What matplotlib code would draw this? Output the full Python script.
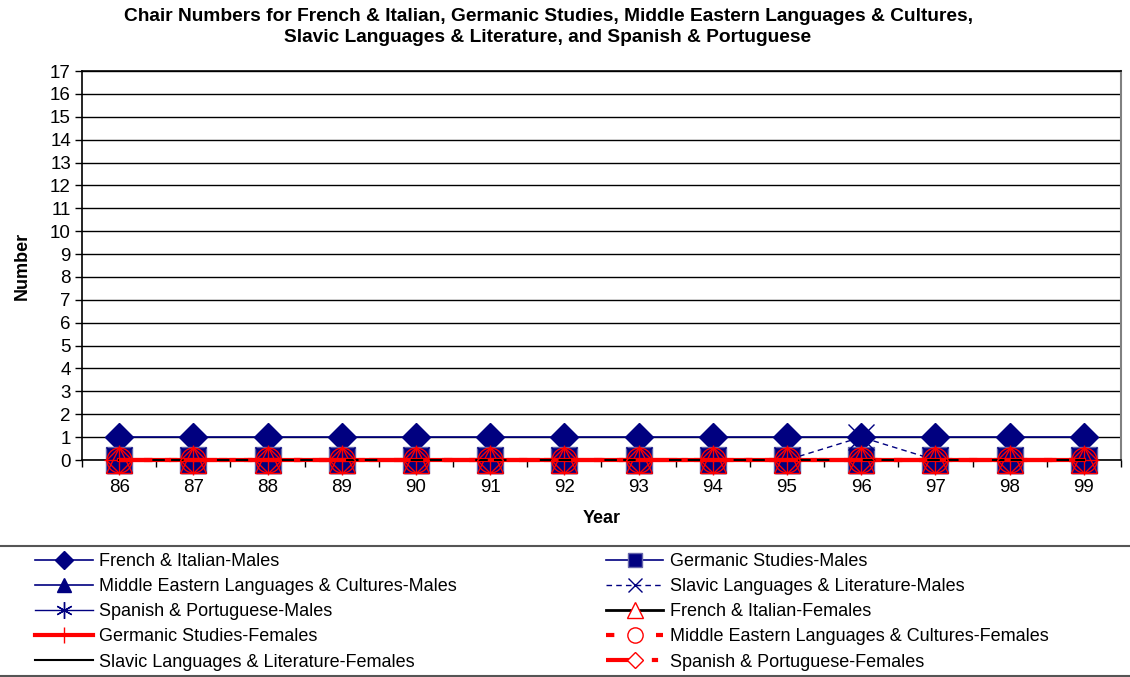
import matplotlib
matplotlib.use('Agg')
import matplotlib.pyplot as plt
from matplotlib.lines import Line2D
from matplotlib.patches import Rectangle

plt.rcParams['font.family'] = ['Liberation Sans', 'DejaVu Sans']

years = ['86', '87', '88', '89', '90', '91', '92', '93', '94', '95', '96', '97', '98', '99']

fr_it_m = [1, 1, 1, 1, 1, 1, 1, 1, 1, 1, 1, 1, 1, 1]
germ_m = [0, 0, 0, 0, 0, 0, 0, 0, 0, 0, 0, 0, 0, 0]
mideast_m = [0, 0, 0, 0, 0, 0, 0, 0, 0, 0, 0, 0, 0, 0]
slavic_m = [0, 0, 0, 0, 0, 0, 0, 0, 0, 0, 1, 0, 0, 0]
span_m = [0, 0, 0, 0, 0, 0, 0, 0, 0, 0, 0, 0, 0, 0]
fr_it_f = [0, 0, 0, 0, 0, 0, 0, 0, 0, 0, 0, 0, 0, 0]
germ_f = [0, 0, 0, 0, 0, 0, 0, 0, 0, 0, 0, 0, 0, 0]
mideast_f = [0, 0, 0, 0, 0, 0, 0, 0, 0, 0, 0, 0, 0, 0]
slavic_f = [0, 0, 0, 0, 0, 0, 0, 0, 0, 0, 0, 0, 0, 0]
span_f = [0, 0, 0, 0, 0, 0, 0, 0, 0, 0, 0, 0, 0, 0]

navy = '#000080'
red = '#ff0000'

# label, data, line style, marker, marker size in plot, marker size in legend, hollow?
series = [
    ('French & Italian-Males', fr_it_m,
     dict(color=navy, lw=1.2, ls='-'), dict(marker='D', mfc=navy, mec=navy), 14.5, 9, False),
    ('Germanic Studies-Males', germ_m,
     dict(color=navy, lw=1.2, ls='-'), dict(marker='s', mfc=navy, mec='#6666aa'), 19, 10, False),
    ('Middle Eastern Languages & Cultures-Males', mideast_m,
     dict(color=navy, lw=1.2, ls='-'), dict(marker='^', mfc=navy, mec=navy), 18, 10, False),
    ('Slavic Languages & Literature-Males', slavic_m,
     dict(color=navy, lw=1.0, ls=(0, (4, 3))), dict(marker='x', mfc='none', mec=navy, mew=1.0), 19, 10, False),
    ('Spanish & Portuguese-Males', span_m,
     dict(color=navy, lw=1.0, ls='-'), dict(marker=(6, 2, 0), mfc='none', mec=navy, mew=1.0), 19, 12, False),
    ('French & Italian-Females', fr_it_f,
     dict(color='black', lw=2.0, ls='-'), dict(marker='^', mfc='none', mec=red, mew=1.0), 19, 12, True),
    ('Germanic Studies-Females', germ_f,
     dict(color=red, lw=3.0, ls='-'), dict(marker='+', mfc='none', mec=red, mew=1.0), 21, 12, False),
    ('Middle Eastern Languages & Cultures-Females', mideast_f,
     dict(color=red, lw=3.0, ls=(0, (2, 4))), dict(marker='o', mfc='none', mec=red, mew=1.0), 18, 11, True),
    ('Slavic Languages & Literature-Females', slavic_f,
     dict(color='black', lw=1.5, ls='-'), dict(marker='None'), 0, 0, False),
    ('Spanish & Portuguese-Females', span_f,
     dict(color=red, lw=3.0, ls=(0, (8, 3, 1.5, 3))), dict(marker='D', mfc='none', mec=red, mew=1.0), 13, 8, True),
]

fig = plt.figure(figsize=(11.3, 6.77), dpi=100)
ax = fig.add_axes([0.0726, 0.3205, 0.9194, 0.5746])

x = list(range(len(years)))
handles = []
for label, data, line_kw, mk_kw, ms, ms_leg, hollow in series:
    ax.plot(x, data, markersize=ms, clip_on=False, zorder=3, **line_kw, **mk_kw)
    leg_mk = dict(mk_kw)
    if hollow:
        leg_mk['mfc'] = 'white'
    handles.append(Line2D([], [], markersize=ms_leg, **line_kw, **leg_mk))

ax.set_xlim(-0.5, len(years) - 0.5)
ax.set_ylim(0, 17)
ax.set_yticks(range(0, 18))
ax.set_xticks(x)
ax.set_xticklabels(years)
ax.set_xticks([i - 0.5 for i in range(len(years) + 1)], minor=True)
ax.tick_params(axis='x', which='major', length=0, labelsize=13.5, pad=14)
ax.tick_params(axis='x', which='minor', length=5, width=1, direction='out')
ax.tick_params(axis='y', length=5, width=1, direction='out', labelsize=13.5, pad=3)
ax.grid(axis='y', color='black', lw=1.0)
ax.set_axisbelow(True)
for side in ['top', 'left', 'bottom']:
    ax.spines[side].set_color('black')
    ax.spines[side].set_linewidth(1.2)
ax.spines['right'].set_color('#808080')
ax.spines['right'].set_linewidth(1.5)

ax.set_xlabel('Year', fontsize=13, fontweight='bold', labelpad=10)
ax.set_ylabel('Number', fontsize=13, fontweight='bold', labelpad=14)

fig.text(0.485, 0.988, 'Chair Numbers for French & Italian, Germanic Studies, Middle Eastern Languages & Cultures,\n'
         'Slavic Languages & Literature, and Spanish & Portuguese',
         ha='center', va='top', fontsize=13.8, fontweight='bold', linespacing=1.33)

# legend frame across the bottom
fig.patches.append(Rectangle((-0.01, 0.0015), 1.02, 0.192, transform=fig.transFigure,
                             fill=False, edgecolor='#555555', lw=1.5))

leg_kw = dict(frameon=False, fontsize=13, handlelength=3.2, handletextpad=0.35,
              labelspacing=0.45, borderaxespad=0, borderpad=0, loc='upper left')
col1 = [0, 2, 4, 6, 8]
col2 = [1, 3, 5, 7, 9]
fig.legend([handles[i] for i in col1], [series[i][0] for i in col1],
           bbox_to_anchor=(0.031, 0.183), **leg_kw)
fig.legend([handles[i] for i in col2], [series[i][0] for i in col2],
           bbox_to_anchor=(0.536, 0.183), **leg_kw)

fig.savefig('out.png', dpi=100)
